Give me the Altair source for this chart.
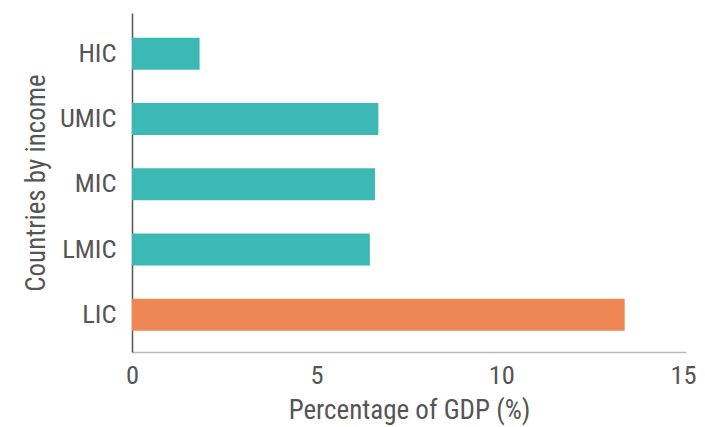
import altair as alt
import pandas as pd

categories = ["HIC", "UMIC", "MIC", "LMIC", "LIC"]
values = [1.83, 6.67, 6.58, 6.44, 13.34]
groups = ["Other", "Other", "Other", "Other", "LIC"]

df = pd.DataFrame({"income": categories, "pct": values, "group": groups})

FONT = "Roboto Condensed, Liberation Sans Narrow, DejaVu Sans Condensed, sans-serif"

chart = alt.Chart(df).mark_bar().encode(
    y=alt.Y(
        "income:N",
        sort=categories,
        title="Countries by income",
        scale=alt.Scale(paddingInner=0.51, paddingOuter=0.3525, align=0.54),
        axis=alt.Axis(
            ticks=False,
            domainColor="#555555",
            domainWidth=1.5,
            labelFont=FONT,
            labelFontSize=26.5,
            labelColor="#555555",
            labelPadding=16,
            titleFont=FONT,
            titleFontSize=27,
            titleFontWeight="normal",
            titleColor="#555555",
            titlePadding=9,
        ),
    ),
    x=alt.X(
        "pct:Q",
        title="Percentage of GDP (%)",
        scale=alt.Scale(domain=[0, 15], nice=False),
        axis=alt.Axis(
            values=[0, 5, 10, 15],
            ticks=False,
            grid=False,
            labelFlush=False,
            labelOffset={"condition": {"test": "datum.value == 15", "value": -3}, "value": 0},
            domainColor="#bbbbbb",
            domainWidth=1.5,
            labelFont=FONT,
            labelFontSize=26.5,
            labelColor="#555555",
            labelPadding=10,
            titleFont=FONT,
            titleFontSize=27,
            titleFontWeight="normal",
            titleColor="#555555",
            titlePadding=9,
        ),
    ),
    color=alt.Color(
        "group:N",
        scale=alt.Scale(domain=["Other", "LIC"], range=["#3DB9B5", "#EF8755"]),
        legend=None,
    ),
).properties(
    width=554,
    height=339,
    autosize=alt.AutoSizeParams(type="none"),
    padding={"left": 124, "top": 5, "right": 11, "bottom": 74},
).configure_view(stroke=None).configure_axis(grid=False)

chart.save("out.html", embed_options={"renderer": "svg", "actions": False})
